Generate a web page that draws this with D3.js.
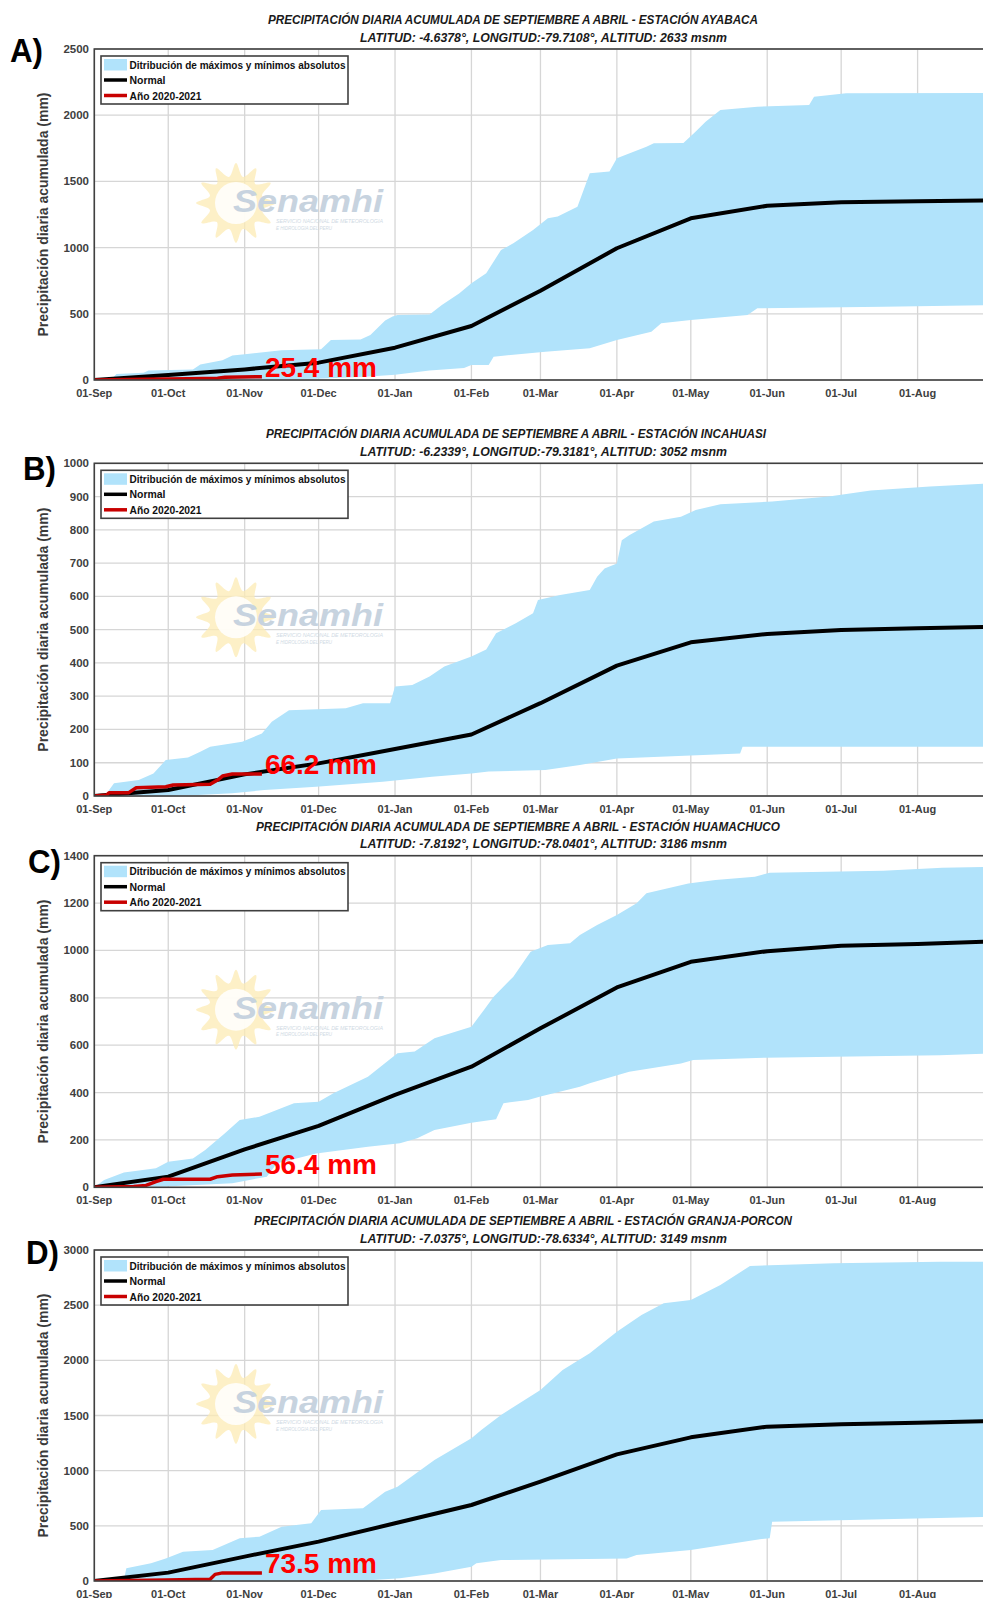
<!DOCTYPE html>
<html>
<head>
<meta charset="utf-8">
<script src="https://cdn.jsdelivr.net/npm/d3@7"></script>
<style>
    body { margin: 0; background: #fff; }
    svg { display: block; font-family: 'Liberation Sans', Arial, sans-serif; }
</style>
</head>
<body>
<svg id="chart" width="983" height="1598"></svg>
<script>

// Data: [day since 01-Sep-2020, accumulated mm]

// A) Ayabaca
const normalA = [[0,0],[30,38],[61,80],[91,131],[122,244],[153,408],[181,674],[212,995],[242,1221],[273,1316],[303,1342],[334,1350],[365,1357]];
const maxA = [[0,0],[7,5],[9,45],[20,55],[22,72],[40,80],[43,118],[52,150],[56,185],[62,196],[76,225],[92,232],[96,302],[108,305],[112,340],[118,450],[121,480],[123,491],[136,495],[141,567],[148,654],[153,730],[159,806],[165,982],[170,1032],[178,1133],[184,1221],[188,1234],[196,1309],[200,1511],[201,1561],[209,1574],[212,1674],[224,1762],[227,1788],[239,1790],[244,1876],[248,1951],[254,2039],[269,2064],[290,2077],[292,2140],[305,2165],[365,2168]];
const minA = [[0,0],[60,2],[90,10],[110,25],[122,40],[136,72],[150,90],[153,113],[160,113],[162,176],[183,214],[201,239],[212,302],[226,365],[230,428],[242,453],[265,491],[269,541],[320,554],[365,566]];
const actualA = [[0,0],[20,5],[38,10],[50,14],[53,20],[68,25.4]];

// B) Incahuasi
const normalB = [[0,0],[30,18],[61,65],[91,98],[122,141],[153,185],[181,279],[212,392],[242,462],[273,487],[303,499],[334,504],[365,509]];
const maxB = [[0,0],[5,5],[6,18],[8,38],[18,48],[24,68],[29,108],[38,116],[43,133],[47,148],[60,163],[68,188],[72,223],[79,258],[102,264],[109,279],[120,279],[122,329],[129,334],[136,359],[142,389],[153,419],[159,440],[163,489],[171,519],[178,549],[180,589],[189,604],[201,619],[204,659],[207,684],[212,699],[214,769],[217,784],[227,825],[238,839],[244,860],[254,877],[275,885],[298,900],[315,918],[339,930],[365,940]];
const minB = [[0,0],[40,2],[56,8],[69,18],[90,28],[117,43],[137,58],[153,68],[160,74],[183,78],[197,93],[212,113],[262,128],[263,148],[365,148]];
const actualB = [[0,0],[5,3],[6,10],[14,10],[17,25],[29,28],[32,33],[47,35],[50,48],[52,60],[56,66],[68,66.2]];

// C) Huamachuco
const normalC = [[0,0],[30,45],[61,160],[91,259],[122,390],[153,509],[181,671],[212,844],[242,952],[273,997],[303,1020],[334,1027],[365,1038]];
const maxC = [[0,0],[4,31],[12,62],[25,80],[30,108],[40,122],[45,157],[53,228],[59,284],[67,298],[81,355],[91,361],[97,397],[111,467],[123,566],[130,573],[138,629],[153,678],[158,748],[162,805],[170,889],[177,995],[184,1023],[193,1030],[197,1065],[204,1107],[212,1150],[220,1199],[224,1241],[241,1283],[252,1297],[268,1311],[274,1328],[320,1336],[344,1349],[365,1353]];
const minC = [[0,0],[29,3],[56,17],[70,45],[74,101],[90,143],[111,171],[124,186],[131,207],[138,242],[153,273],[163,287],[166,355],[176,369],[181,383],[197,425],[201,439],[217,488],[238,523],[243,537],[272,547],[343,558],[365,565]];
const actualC = [[0,0],[16,3],[21,8],[25,24],[28,34],[47,34],[50,45],[56,52],[68,56.4]];

// D) Granja-Porcon
const normalD = [[0,0],[30,76],[61,221],[91,357],[122,523],[153,689],[181,900],[212,1148],[242,1302],[273,1399],[303,1420],[334,1435],[365,1450]];
const maxD = [[0,0],[12,10],[13,115],[23,160],[29,205],[36,266],[48,281],[59,387],[67,402],[76,492],[88,523],[92,643],[109,659],[118,809],[123,855],[138,1097],[153,1293],[157,1369],[165,1505],[181,1731],[190,1912],[201,2064],[212,2260],[222,2411],[231,2517],[242,2547],[254,2683],[266,2855],[300,2880],[343,2894],[365,2894]];
const minD = [[0,0],[110,5],[124,24],[138,69],[153,130],[155,160],[165,190],[216,205],[220,236],[242,281],[270,378],[274,387],[275,537],[320,559],[365,583]];
const actualD = [[0,0],[29,10],[47,15],[49,60],[52,73.5],[68,73.5]];

const stations = ['AYABACA', 'INCAHUASI', 'HUAMACHUCO', 'GRANJA-PORCON'];
const coords = [
    'LATITUD: -4.6378°, LONGITUD:-79.7108°, ALTITUD: 2633 msnm',
    'LATITUD: -6.2339°, LONGITUD:-79.3181°, ALTITUD: 3052 msnm',
    'LATITUD: -7.8192°, LONGITUD:-78.0401°, ALTITUD: 3186 msnm',
    'LATITUD: -7.0375°, LONGITUD:-78.6334°, ALTITUD: 3149 msnm'
];
const yMaxes = [2500, 1000, 1400, 3000];
const ySteps = [500, 100, 200, 500];
const legendLabels = ['Ditribución de máximos y mínimos absolutos', 'Normal', 'Año 2020-2021'];

// Constants
const SEASON_START = Date.UTC(2020, 8, 1);
const SEASON_END = Date.UTC(2021, 8, 1);
const PLOT_LEFT = 94.3;
const PLOT_RIGHT = 994;
const COLOR_BAND = '#b1e3fb';
const COLOR_NORMAL = '#000';
const COLOR_ACTUAL = '#c80000';
const COLOR_AXIS = '#404040';
const COLOR_GRID = '#d6d6d6';

const day = (d) => new Date(SEASON_START + d * 864e5);

// Layout per panel (positions only)
const panels = [
    { letter: 'A)', top: 49,    bottom: 380,    normal: normalA, max: maxA, min: minA, actual: actualA, letterX: 10, letterY: 62,   t1x: 268, t1w: 490 },
    { letter: 'B)', top: 463.3, bottom: 796,    normal: normalB, max: maxB, min: minB, actual: actualB, letterX: 23, letterY: 480,  t1x: 266, t1w: 500 },
    { letter: 'C)', top: 855.7, bottom: 1187.3, normal: normalC, max: maxC, min: minC, actual: actualC, letterX: 28, letterY: 873,  t1x: 256, t1w: 524 },
    { letter: 'D)', top: 1250,  bottom: 1581,   normal: normalD, max: maxD, min: minD, actual: actualD, letterX: 26, letterY: 1264, t1x: 254, t1w: 538 }
];

const svg = d3.select('#chart');
svg.append('rect').attr('width', 983).attr('height', 1598).attr('fill', '#fff');

panels.forEach((p, i) => {
    const x = d3.scaleUtc().domain([SEASON_START, SEASON_END]).range([PLOT_LEFT, PLOT_RIGHT]);
    const y = d3.scaleLinear().domain([0, yMaxes[i]]).range([p.bottom, p.top]);
    const months = d3.utcMonth.range(new Date(SEASON_START), new Date(SEASON_END));
    const yTicks = d3.range(0, yMaxes[i] + 1, ySteps[i]);

    const g = svg.append('g').attr('class', 'panel');

    g.append('clipPath').attr('id', 'clip' + i)
        .append('rect')
            .attr('x', PLOT_LEFT).attr('y', p.top)
            .attr('width', PLOT_RIGHT - PLOT_LEFT).attr('height', p.bottom - p.top);

    // Grid
    g.append('g').selectAll('line.v').data(months).enter().append('line')
        .attr('x1', (d) => x(d)).attr('x2', (d) => x(d))
        .attr('y1', p.top).attr('y2', p.bottom)
        .attr('stroke', COLOR_GRID).attr('stroke-width', 1.3);
    g.append('g').selectAll('line.h').data(yTicks).enter().append('line')
        .attr('x1', PLOT_LEFT).attr('x2', PLOT_RIGHT)
        .attr('y1', (d) => y(d)).attr('y2', (d) => y(d))
        .attr('stroke', COLOR_GRID).attr('stroke-width', 1.3);

    // Watermark
    drawWatermark(g, 236, p.top + 154);

    const plot = g.append('g').attr('clip-path', 'url(#clip' + i + ')');
    const line = d3.line().x((d) => x(day(d[0]))).y((d) => y(d[1]));

    // Band max/min
    plot.append('path')
        .attr('d', line(p.max.concat(p.min.slice().reverse())) + 'Z')
        .attr('fill', COLOR_BAND);

    // Normal
    plot.append('path')
        .attr('d', line(p.normal))
        .attr('fill', 'none')
        .attr('stroke', COLOR_NORMAL)
        .attr('stroke-width', 4)
        .attr('stroke-linejoin', 'round');

    // Current season
    plot.append('path')
        .attr('d', line(p.actual))
        .attr('fill', 'none')
        .attr('stroke', COLOR_ACTUAL)
        .attr('stroke-width', 3.5)
        .attr('stroke-linejoin', 'round');

    // Frame
    g.append('rect')
        .attr('x', PLOT_LEFT).attr('y', p.top)
        .attr('width', PLOT_RIGHT - PLOT_LEFT).attr('height', p.bottom - p.top)
        .attr('fill', 'none').attr('stroke', COLOR_AXIS).attr('stroke-width', 1.6);

    // Ticks
    g.append('g').selectAll('text').data(yTicks).enter().append('text')
        .attr('x', 89).attr('y', (d) => y(d) + 4)
        .attr('text-anchor', 'end')
        .attr('font-size', 11.5).attr('font-weight', 'bold').attr('fill', COLOR_AXIS)
        .text((d) => d);
    g.append('g').selectAll('text').data(months).enter().append('text')
        .attr('x', (d) => x(d)).attr('y', p.bottom + 16.5)
        .attr('text-anchor', 'middle')
        .attr('font-size', 11).attr('font-weight', 'bold').attr('fill', COLOR_AXIS)
        .text(d3.utcFormat('%d-%b'));

    // Y title
    g.append('text')
        .attr('transform', 'translate(48,' + (p.top + p.bottom) / 2 + ') rotate(-90)')
        .attr('text-anchor', 'middle')
        .attr('font-size', 14).attr('font-weight', 'bold').attr('fill', '#3a3a3a')
        .attr('textLength', 244).attr('lengthAdjust', 'spacingAndGlyphs')
        .text('Precipitación diaria acumulada (mm)');

    // Legend
    const lg = g.append('g').attr('transform', 'translate(101,' + (p.top + 7) + ')');
    lg.append('rect').attr('width', 247).attr('height', 48)
        .attr('fill', '#fff').attr('stroke', COLOR_AXIS).attr('stroke-width', 1.6);
    lg.append('rect').attr('x', 3).attr('y', 3).attr('width', 23).attr('height', 11.5).attr('fill', COLOR_BAND);
    lg.append('line').attr('x1', 3).attr('x2', 26).attr('y1', 24).attr('y2', 24).attr('stroke', COLOR_NORMAL).attr('stroke-width', 3.5);
    lg.append('line').attr('x1', 3).attr('x2', 26).attr('y1', 39.5).attr('y2', 39.5).attr('stroke', COLOR_ACTUAL).attr('stroke-width', 3.5);
    const legendWidths = [216, 36, 72];
    lg.selectAll('text').data(legendLabels).enter().append('text')
        .attr('x', 28.5).attr('y', (d, k) => 12.5 + k * 15.5)
        .attr('font-size', 11).attr('font-weight', 'bold').attr('fill', '#111')
        .attr('textLength', (d, k) => legendWidths[k]).attr('lengthAdjust', 'spacingAndGlyphs')
        .text((d) => d);

    // Title
    g.append('text')
        .attr('x', p.t1x).attr('y', p.top - 25)
        .attr('font-size', 13).attr('font-weight', 'bold').attr('font-style', 'italic').attr('fill', '#1a1a1a')
        .attr('textLength', p.t1w).attr('lengthAdjust', 'spacingAndGlyphs')
        .text('PRECIPITACIÓN DIARIA ACUMULADA DE SEPTIEMBRE A ABRIL - ESTACIÓN ' + stations[i]);
    g.append('text')
        .attr('x', 360).attr('y', p.top - 7.5)
        .attr('font-size', 13).attr('font-weight', 'bold').attr('font-style', 'italic').attr('fill', '#1a1a1a')
        .attr('textLength', 367).attr('lengthAdjust', 'spacingAndGlyphs')
        .text(coords[i]);

    // Last value label
    const last = p.actual[p.actual.length - 1];
    g.append('text')
        .attr('x', x(day(last[0])) + 3).attr('y', y(last[1]))
        .attr('font-size', 28).attr('font-weight', 'bold').attr('fill', '#ff0000')
        .text(last[1].toFixed(1) + ' mm');

    // Panel letter
    g.append('text')
        .attr('x', p.letterX).attr('y', p.letterY)
        .attr('font-size', 33).attr('font-weight', 'bold').attr('fill', '#000')
        .attr('textLength', 33).attr('lengthAdjust', 'spacingAndGlyphs')
        .text(p.letter);
});

function drawWatermark(g, cx, cy) {
    const wm = g.append('g').attr('transform', 'translate(' + cx + ',' + cy + ')');
    const rays = d3.range(24).map((k) => [k * Math.PI / 12, k % 2 ? 27 : 40]);
    wm.append('path')
        .attr('d', d3.lineRadial().angle((d) => d[0]).radius((d) => d[1]).curve(d3.curveCardinalClosed)(rays))
        .attr('fill', '#fcebb4').attr('opacity', 0.75);
    wm.append('circle').attr('r', 21).attr('fill', '#fff').attr('opacity', 0.85);
    wm.append('text')
        .attr('x', -3).attr('y', 9)
        .attr('font-size', 32).attr('font-weight', 'bold').attr('font-style', 'italic').attr('fill', '#c7d3df')
        .attr('textLength', 150).attr('lengthAdjust', 'spacingAndGlyphs')
        .text('Senamhi');
    wm.append('text')
        .attr('x', 40).attr('y', 20)
        .attr('font-size', 4.5).attr('font-style', 'italic').attr('fill', '#d0dae4')
        .attr('textLength', 107).attr('lengthAdjust', 'spacingAndGlyphs')
        .text('SERVICIO NACIONAL DE METEOROLOGIA');
    wm.append('text')
        .attr('x', 40).attr('y', 26.5)
        .attr('font-size', 4.5).attr('font-style', 'italic').attr('fill', '#d0dae4')
        .attr('textLength', 56).attr('lengthAdjust', 'spacingAndGlyphs')
        .text('E HIDROLOGIA DEL PERU');
}

</script>
</body>
</html>
